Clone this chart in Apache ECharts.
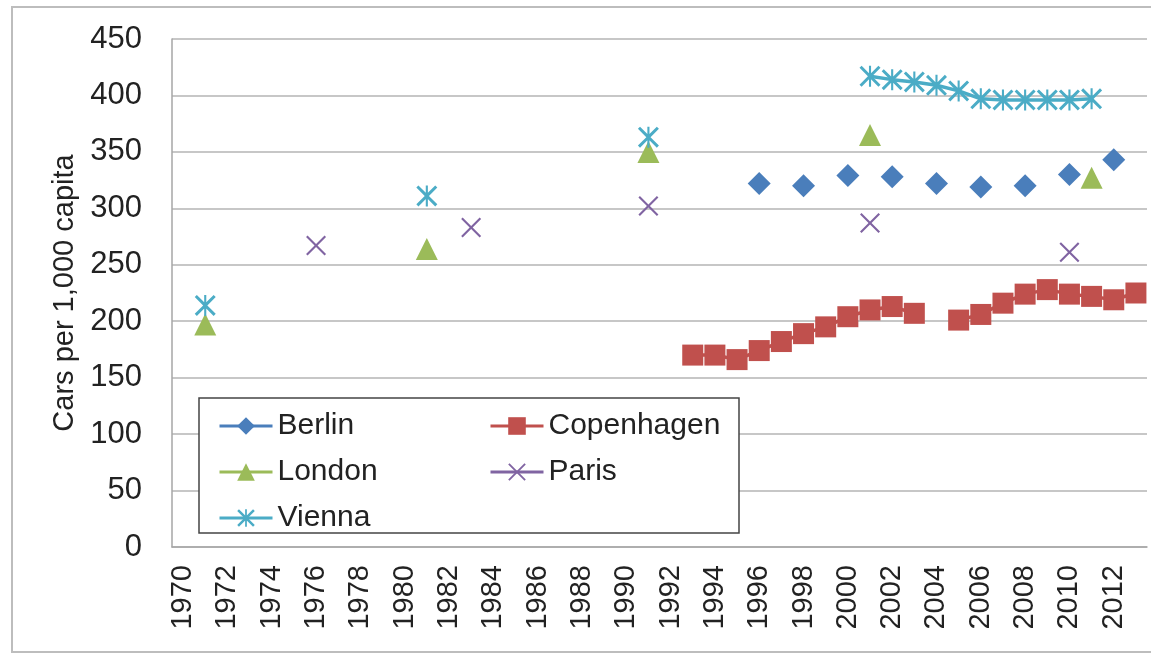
<!DOCTYPE html>
<html>
<head>
<meta charset="utf-8">
<script src="https://cdn.jsdelivr.net/npm/echarts@6/dist/echarts.min.js"></script>
<style>
    html, body { margin: 0; padding: 0; background: #fff; }
    #chart { width: 1151px; height: 653px; }
</style>
</head>
<body>
<div id="chart"></div>
<script>
// years on the category axis
var years = ["1970", "1971", "1972", "1973", "1974", "1975", "1976", "1977", "1978", "1979",
    "1980", "1981", "1982", "1983", "1984", "1985", "1986", "1987", "1988", "1989",
    "1990", "1991", "1992", "1993", "1994", "1995", "1996", "1997", "1998", "1999",
    "2000", "2001", "2002", "2003", "2004", "2005", "2006", "2007", "2008", "2009",
    "2010", "2011", "2012", "2013"];

// [year, cars per 1,000 capita]
var berlin = [[1996, 322], [1998, 320], [2000, 329], [2002, 328], [2004, 322], [2006, 319],
    [2008, 320], [2010, 330], [2012, 343]];
var copenhagen = [[1993, 170], [1994, 170], [1995, 166], [1996, 174], [1997, 182], [1998, 189],
    [1999, 195], [2000, 204], [2001, 210], [2002, 213], [2003, 207],
    [2005, 201], [2006, 206], [2007, 216], [2008, 224], [2009, 228], [2010, 224],
    [2011, 222], [2012, 219], [2013, 225]];
var london = [[1971, 197], [1981, 264], [1991, 350], [2001, 365], [2011, 327]];
var paris = [[1976, 267], [1983, 283], [1991, 302], [2001, 287], [2010, 261]];
var vienna = [[1971, 214], [1981, 311], [1991, 363], [2001, 417], [2002, 414], [2003, 412],
    [2004, 409], [2005, 404], [2006, 397], [2007, 396], [2008, 396], [2009, 396],
    [2010, 396], [2011, 397]];

var yTicks = { min: 0, max: 450, step: 50 };

var crossPath = "path://M1.5,0 L10,8.5 L18.5,0 L20,1.5 L11.5,10 L20,18.5 L18.5,20 L10,11.5 L1.5,20 L0,18.5 L8.5,10 L0,1.5 Z";
var starPath = "path://M2,0 L10,8 L18,0 L20,2 L12,10 L20,18 L18,20 L10,12 L2,20 L0,18 L8,10 L0,2 Z M9,0 L11,0 L11,20 L9,20 Z";

function toSeriesData(pairs) {
    var out = years.map(function () { return null; });
    pairs.forEach(function (p) {
        out[years.indexOf(String(p[0]))] = p[1];
    });
    return out;
}

function makeSeries(name, pairs, color, symbol, size) {
    return {
        name: name,
        type: 'line',
        data: toSeriesData(pairs),
        connectNulls: false,
        showAllSymbol: true,
        symbol: symbol,
        symbolSize: size,
        itemStyle: { color: color, borderWidth: 0 },
        lineStyle: { color: color, width: 3.5 },
        emphasis: { disabled: true },
        animation: false
    };
}

var font = "'Liberation Sans', Arial, sans-serif";
var legendText = { fontFamily: font, fontSize: 30, color: '#222', lineHeight: 30 };

var chart = echarts.init(document.getElementById('chart'));
chart.setOption({
    backgroundColor: '#fff',
    animation: false,
    grid: { left: 172, right: 4, top: 39, bottom: 106 },
    xAxis: {
        type: 'category',
        data: years,
        boundaryGap: true,
        axisLine: { lineStyle: { color: '#a6a6a6', width: 1.5 } },
        axisTick: { show: false },
        axisLabel: {
            interval: 1, rotate: 90, margin: 18,
            fontFamily: font, fontSize: 29, color: '#222'
        },
        splitLine: { show: false }
    },
    yAxis: {
        type: 'value',
        min: yTicks.min, max: yTicks.max, interval: yTicks.step,
        name: 'Cars per 1,000 capita',
        nameLocation: 'middle',
        nameGap: 86,
        nameTextStyle: { fontFamily: font, fontSize: 29, color: '#222' },
        axisLine: { show: true, lineStyle: { color: '#a6a6a6', width: 1.5 } },
        axisTick: { show: false },
        axisLabel: { margin: 30, fontFamily: font, fontSize: 31, color: '#222' },
        splitLine: { lineStyle: { color: '#b5b5b5', width: 1.5 } }
    },
    legend: [{
        data: ['Berlin', 'London', 'Vienna'],
        orient: 'vertical',
        left: 213, top: 406,
        itemWidth: 53, itemHeight: 22, itemGap: 16,
        lineStyle: { width: 3 },
        textStyle: legendText
    }, {
        data: ['Copenhagen', 'Paris'],
        orient: 'vertical',
        left: 484, top: 406,
        itemWidth: 53, itemHeight: 22, itemGap: 16,
        lineStyle: { width: 3 },
        textStyle: legendText
    }],
    graphic: [{
        type: 'rect',
        shape: { x: 12, y: 7, width: 1150, height: 645 },
        style: { fill: 'none', stroke: '#bdbdbd', lineWidth: 2 },
        silent: true
    }, {
        type: 'rect',
        shape: { x: 199, y: 398, width: 540, height: 135 },
        style: { fill: '#fff', stroke: '#444', lineWidth: 1.5 },
        z: 1,
        silent: true
    }],
    series: [
        makeSeries('Berlin', berlin, '#4a7ebb', 'diamond', 23),
        makeSeries('Copenhagen', copenhagen, '#c0504d', 'rect', 21),
        makeSeries('London', london, '#9bbb59', 'triangle', 22),
        makeSeries('Paris', paris, '#8064a2', crossPath, 20),
        makeSeries('Vienna', vienna, '#4bacc6', starPath, 21)
    ]
});
</script>
</body>
</html>
